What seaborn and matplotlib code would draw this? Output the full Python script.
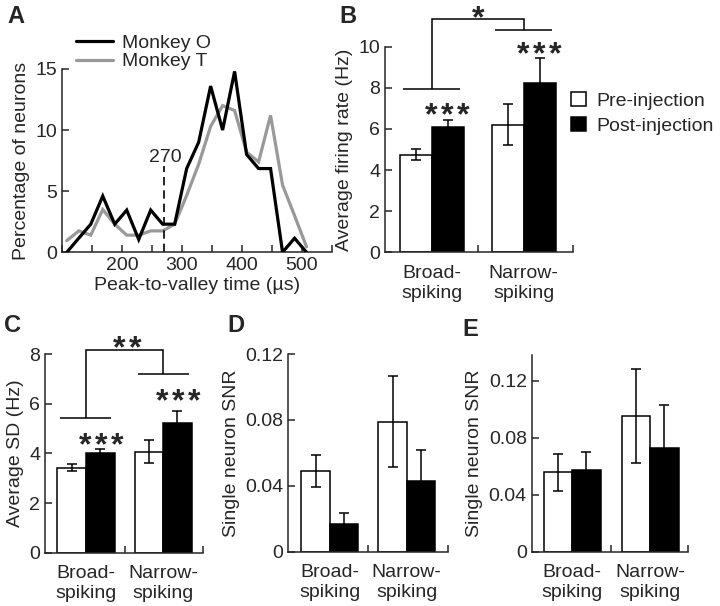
import pandas as pd
import matplotlib
matplotlib.use("Agg")
import matplotlib.pyplot as plt
import seaborn as sns

# ---- panel A: distribution of peak-to-valley times ----
peak_to_valley_us = [108, 128, 148, 168, 188, 208, 228, 248, 268, 288, 308,
                     328, 348, 368, 388, 408, 428, 448, 468, 488, 508]
pct_monkey_o = [0, 1.15, 2.3, 4.6, 2.3, 3.45, 1.05, 3.45, 2.3, 2.3, 6.85,
                9.0, 13.6, 10.0, 14.8, 8.0, 6.85, 6.85, 0, 1.15, 0]
pct_monkey_t = [0.95, 1.75, 1.4, 3.5, 2.3, 1.4, 1.4, 1.75, 1.75, 2.3, 4.65,
                7.2, 10.3, 12.0, 11.6, 8.2, 7.4, 11.2, 5.5, 3.0, 0.45]
monkeys = ["Monkey O", "Monkey T"]
cutoff_us = 270
a_xticks = [100, 150, 200, 250, 300, 350, 400, 450, 500, 550]
a_xticklabels = ["", "", "200", "", "300", "", "400", "", "500", ""]

# ---- bar panels ----
cell_types = ["Broad-\nspiking", "Narrow-\nspiking"]
conditions = ["Pre-injection", "Post-injection"]

rate_pre, rate_pre_err = [4.74, 6.21], [0.27, 0.99]
rate_post, rate_post_err = [6.08, 8.24], [0.37, 1.19]

sd_pre, sd_pre_err = [3.43, 4.07], [0.15, 0.47]
sd_post, sd_post_err = [4.0, 5.22], [0.17, 0.5]

snr_d_pre, snr_d_pre_err = [0.049, 0.079], [0.0097, 0.0274]
snr_d_post, snr_d_post_err = [0.0171, 0.043], [0.0065, 0.019]

snr_e_pre, snr_e_pre_err = [0.0558, 0.0949], [0.0129, 0.033]
snr_e_post, snr_e_post_err = [0.0572, 0.0731], [0.0124, 0.0296]

snr_ticks = [0, 0.04, 0.08, 0.12]
snr_ticklabels = ["0", "0.04", "0.08", "0.12"]

sns.set_style("ticks")
plt.rcParams["font.family"] = ["Liberation Sans", "DejaVu Sans"]
plt.rcParams["xtick.direction"] = "in"
plt.rcParams["ytick.direction"] = "in"
plt.rcParams["axes.linewidth"] = 1.1
plt.rcParams["xtick.major.width"] = 1.1
plt.rcParams["ytick.major.width"] = 1.1
plt.rcParams["xtick.minor.width"] = 1.1
plt.rcParams["lines.solid_joinstyle"] = "miter"

FS = 14
STAR_FS = 23
STAR_STEP = 11.5  # points between neighbouring asterisks


def star(ax, x, y, count):
    # y is where the visual centre of the asterisks should sit
    for i in range(count):
        dx = (i - (count - 1) / 2) * STAR_STEP
        ax.annotate("*", xy=(x, y), xytext=(dx, -0.57 * STAR_FS), textcoords="offset points",
                    ha="center", va="baseline", fontsize=STAR_FS, fontweight="bold",
                    annotation_clip=False)


def bracket(ax, y_left, y_right, y_top, half=0.31):
    kw = dict(color="black", lw=1.1, clip_on=False, solid_capstyle="butt")
    ax.plot([-half, half], [y_left, y_left], **kw)
    ax.plot([1 - half, 1 + half], [y_right, y_right], **kw)
    ax.plot([0, 0, 1, 1], [y_left, y_top, y_top, y_right], **kw)


def bar_panel(ax, pre, pre_err, post, post_err, width, xlim, legend=False):
    df = pd.DataFrame({
        "cell": cell_types * 2,
        "cond": [conditions[0]] * 2 + [conditions[1]] * 2,
        "value": pre + post,
    })
    sns.barplot(data=df, x="cell", y="value", hue="cond", hue_order=conditions,
                palette={conditions[0]: "white", conditions[1]: "black"},
                edgecolor="black", linewidth=1.1, width=width, saturation=1,
                errorbar=None, legend=legend, ax=ax)
    for cont, errs in zip(ax.containers, [pre_err, post_err]):
        xs = [b.get_x() + b.get_width() / 2 for b in cont]
        ys = [b.get_height() for b in cont]
        ax.errorbar(xs, ys, yerr=errs, fmt="none", ecolor="black", elinewidth=1.1,
                    capsize=3.5, capthick=1.1, zorder=5)
    ax.set_xlim(*xlim)
    ax.tick_params(axis="x", which="major", length=0, labelsize=FS, pad=9)
    for lbl in ax.get_xticklabels():
        lbl.set_linespacing(1.25)
    ax.set_xticks([0.5, xlim[1]], minor=True)
    ax.tick_params(axis="x", which="minor", length=5)
    ax.tick_params(axis="y", length=5, labelsize=FS)
    ax.set_xlabel("")
    sns.despine(ax=ax)
    if legend:
        handles, labels = ax.get_legend_handles_labels()
        ax.legend(handles, labels, loc="upper left", bbox_to_anchor=(0.99, 0.78),
                  frameon=False, fontsize=FS, handlelength=0.75, handleheight=0.77,
                  handletextpad=0.55, labelspacing=0.35, borderpad=0, borderaxespad=0)


fig = plt.figure(figsize=(7.2, 6.06), dpi=100)
ax_a = fig.add_axes([0.0861, 0.5837, 0.3746, 0.3025])
ax_b = fig.add_axes([0.5347, 0.5837, 0.2615, 0.3393])
ax_c = fig.add_axes([0.0625, 0.0880, 0.2199, 0.3274])
ax_d = fig.add_axes([0.4004, 0.0896, 0.2222, 0.3262])
ax_e = fig.add_axes([0.7385, 0.0896, 0.2175, 0.3246])

# ---- A ----
n = len(peak_to_valley_us)
df_a = pd.DataFrame({
    "t": peak_to_valley_us * 2,
    "pct": pct_monkey_o + pct_monkey_t,
    "monkey": [monkeys[0]] * n + [monkeys[1]] * n,
})
sns.lineplot(data=df_a, x="t", y="pct", hue="monkey", hue_order=monkeys,
             palette={monkeys[0]: "black", monkeys[1]: "#999999"},
             linewidth=2.3, errorbar=None, ax=ax_a)
ax_a.lines[0].set_zorder(4)
ax_a.vlines(cutoff_us, 0, 7.1, colors="black", linewidth=1.2, linestyles=(0, (5, 3)))
ax_a.text(cutoff_us + 2, 7.75, str(cutoff_us), ha="center", va="center", fontsize=FS)
ax_a.set_xlim(100, 550)
ax_a.set_ylim(0, 15)
ax_a.set_xticks(a_xticks)
ax_a.set_xticklabels(a_xticklabels)
ax_a.set_yticks([0, 5, 10, 15])
ax_a.tick_params(length=5, labelsize=FS)
ax_a.set_xlabel("Peak-to-valley time (µs)", fontsize=FS, labelpad=2)
ax_a.set_ylabel("Percentage of neurons", fontsize=FS)
sns.despine(ax=ax_a)
handles, labels = ax_a.get_legend_handles_labels()
ax_a.legend(handles, labels, loc="upper left", bbox_to_anchor=(0.052, 1.19),
            frameon=False, fontsize=FS, handlelength=1.9, handletextpad=0.45,
            labelspacing=0.05, borderpad=0, borderaxespad=0)

# ---- B ----
bar_panel(ax_b, rate_pre, rate_pre_err, rate_post, rate_post_err, 0.7, (-0.51, 1.54), legend=True)
ax_b.set_ylim(0, 10)
ax_b.set_yticks([0, 2, 4, 6, 8, 10])
ax_b.set_ylabel("Average firing rate (Hz)", fontsize=FS)
bracket(ax_b, 7.92, 10.8, 11.33)
star(ax_b, 0.17, 7.11, 3)
star(ax_b, 1.17, 10.08, 3)
star(ax_b, 0.5, 11.85, 1)

# ---- C ----
bar_panel(ax_c, sd_pre, sd_pre_err, sd_post, sd_post_err, 0.74, (-0.53, 1.52))
ax_c.set_ylim(0, 8)
ax_c.set_yticks([0, 2, 4, 6, 8])
ax_c.set_ylabel("Average SD (Hz)", fontsize=FS)
bracket(ax_c, 5.42, 7.2, 8.17, half=0.33)
star(ax_c, 0.2, 4.7, 3)
star(ax_c, 1.2, 6.49, 3)
star(ax_c, 0.53, 8.6, 2)

# ---- D ----
bar_panel(ax_d, snr_d_pre, snr_d_pre_err, snr_d_post, snr_d_post_err, 0.74, (-0.54, 1.54))
ax_d.set_ylim(0, 0.12)
ax_d.set_yticks(snr_ticks)
ax_d.set_yticklabels(snr_ticklabels)
ax_d.set_ylabel("Single neuron SNR", fontsize=FS)

# ---- E ----
bar_panel(ax_e, snr_e_pre, snr_e_pre_err, snr_e_post, snr_e_post_err, 0.73, (-0.52, 1.49))
ax_e.set_ylim(0, 0.138)
ax_e.set_yticks(snr_ticks)
ax_e.set_yticklabels(snr_ticklabels)
ax_e.set_ylabel("Single neuron SNR", fontsize=FS)

for letter, x, y in [("A", 7, 5), ("B", 339, 5), ("C", 4, 314), ("D", 227, 314), ("E", 462, 318)]:
    fig.text(x / 720, 1 - y / 606, letter, fontsize=17, fontweight="bold", ha="left", va="top")

fig.savefig("out.png", dpi=100)
